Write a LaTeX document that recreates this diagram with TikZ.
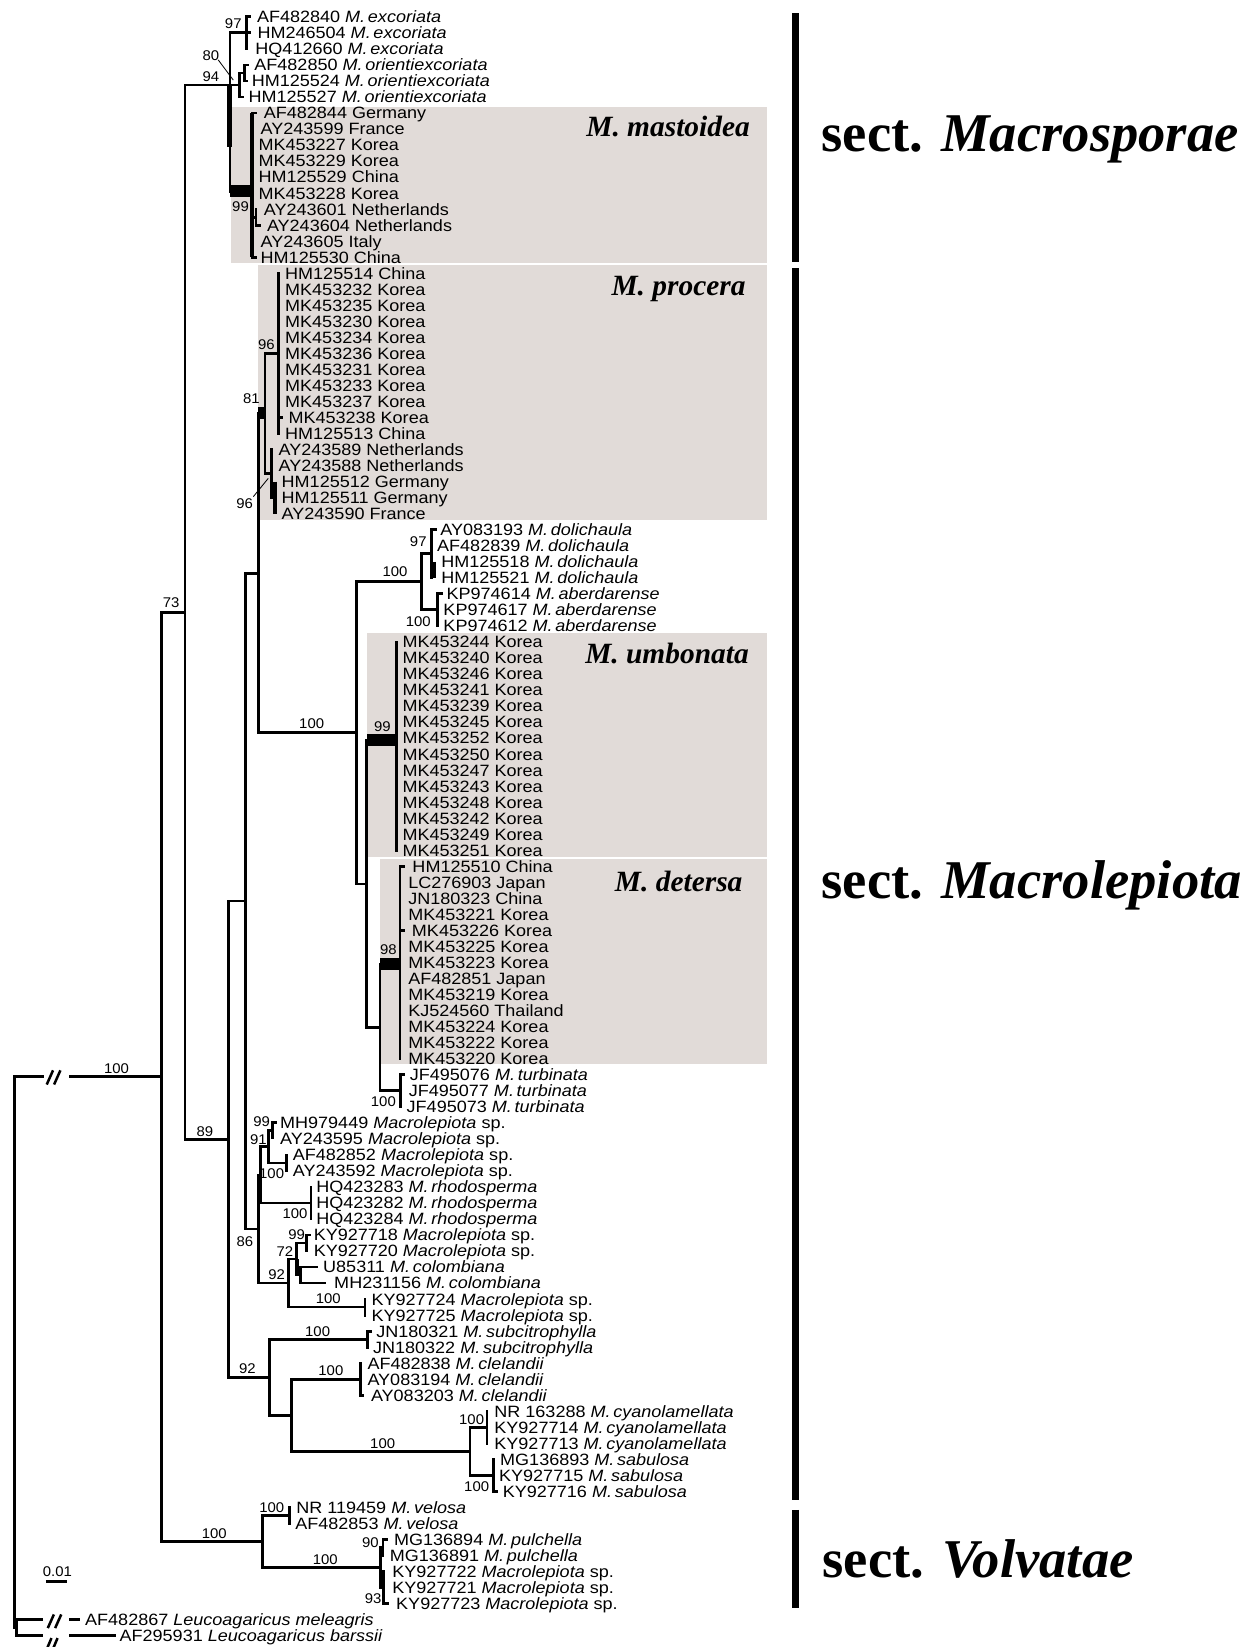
\documentclass[tikz,border=0pt]{standalone}
\usepackage{fontspec}
\setmainfont{Liberation Serif}
\newfontfamily\lff{Liberation Sans}[FakeStretch=1.1]
\newfontfamily\bsf{Liberation Sans}[FakeStretch=1.06]
\definecolor{cladebg}{RGB}{225,219,216}
\begin{document}
\begin{tikzpicture}[x=1pt,y=-1pt,
  br/.style={line width=2.6pt,line cap=rect},
  thk/.style={line width=3.6pt},
  lf/.style={font=\lff\fontsize{15.6}{15.6}\selectfont,anchor=base west,inner sep=0pt},
  bs/.style={font=\bsf\fontsize{13.4}{13.4}\selectfont,inner sep=0pt},
  cl/.style={font=\bfseries\itshape\fontsize{28}{28}\selectfont,anchor=base east,inner sep=0pt},
  sc/.style={font=\bfseries\fontsize{52}{52}\selectfont,anchor=base west,inner sep=0pt},
  secbar/.style={line width=7pt},
  leader/.style={line width=0.8pt},
  brk/.style={line width=2.4pt},
  cbox/.style={fill=cladebg}]
\useasboundingbox (0,0) rectangle (1189.5,1568);
\fill[white] (0,0) rectangle (1189.5,1568);
% clade boxes
\fill[cbox] (219.5,101.5) rectangle (730,250.5);
\fill[cbox] (246,252.5) rectangle (730,495.5);
\fill[cbox] (349,603) rectangle (730,815.5);
\fill[cbox] (361.8,818) rectangle (730,1013);
% leaves
\foreach \i/\x/\t in {
1/244.5/{AF482840 \textit{M.\,excoriata}},
2/245/{HM246504 \textit{M.\,excoriata}},
3/243/{HQ412660 \textit{M.\,excoriata}},
4/242/{AF482850 \textit{M.\,orientiexcoriata}},
5/239.5/{HM125524 \textit{M.\,orientiexcoriata}},
6/236.5/{HM125527 \textit{M.\,orientiexcoriata}},
7/251/{AF482844 Germany},
8/248/{AY243599 France},
9/246/{MK453227 Korea},
10/246/{MK453229 Korea},
11/246/{HM125529 China},
12/246/{MK453228 Korea},
13/251/{AY243601 Netherlands},
14/254/{AY243604 Netherlands},
15/248/{AY243605 Italy},
16/248/{HM125530 China},
17/271.3/{HM125514 China},
18/271.3/{MK453232 Korea},
19/271.3/{MK453235 Korea},
20/271.3/{MK453230 Korea},
21/271.3/{MK453234 Korea},
22/271.3/{MK453236 Korea},
23/271.3/{MK453231 Korea},
24/271.3/{MK453233 Korea},
25/271.3/{MK453237 Korea},
26/274.5/{MK453238 Korea},
27/271.3/{HM125513 China},
28/265/{AY243589 Netherlands},
29/265/{AY243588 Netherlands},
30/268/{HM125512 Germany},
31/268/{HM125511 Germany},
32/268/{AY243590 France},
33/419/{AY083193 \textit{M.\,dolichaula}},
34/416/{AF482839 \textit{M.\,dolichaula}},
35/420/{HM125518 \textit{M.\,dolichaula}},
36/420/{HM125521 \textit{M.\,dolichaula}},
37/425/{KP974614 \textit{M.\,aberdarense}},
38/422/{KP974617 \textit{M.\,aberdarense}},
39/422/{KP974612 \textit{M.\,aberdarense}},
40/383/{MK453244 Korea},
41/383/{MK453240 Korea},
42/383/{MK453246 Korea},
43/383/{MK453241 Korea},
44/383/{MK453239 Korea},
45/383/{MK453245 Korea},
46/383/{MK453252 Korea},
47/383/{MK453250 Korea},
48/383/{MK453247 Korea},
49/383/{MK453243 Korea},
50/383/{MK453248 Korea},
51/383/{MK453242 Korea},
52/383/{MK453249 Korea},
53/383/{MK453251 Korea},
54/392.5/{HM125510 China},
55/388.5/{LC276903 Japan},
56/388.5/{JN180323 China},
57/388.5/{MK453221 Korea},
58/392/{MK453226 Korea},
59/388.5/{MK453225 Korea},
60/388.5/{MK453223 Korea},
61/388.5/{AF482851 Japan},
62/388.5/{MK453219 Korea},
63/388.5/{KJ524560 Thailand},
64/388.5/{MK453224 Korea},
65/388.5/{MK453222 Korea},
66/388.5/{MK453220 Korea},
67/390/{JF495076 \textit{M.\,turbinata}},
68/389/{JF495077 \textit{M.\,turbinata}},
69/387/{JF495073 \textit{M.\,turbinata}},
70/266.5/{MH979449 \textit{Macrolepiota} sp.},
71/266.5/{AY243595 \textit{Macrolepiota} sp.},
72/278.6/{AF482852 \textit{Macrolepiota} sp.},
73/278.6/{AY243592 \textit{Macrolepiota} sp.},
74/301/{HQ423283 \textit{M.\,rhodosperma}},
75/301/{HQ423282 \textit{M.\,rhodosperma}},
76/301/{HQ423284 \textit{M.\,rhodosperma}},
77/298.5/{KY927718 \textit{Macrolepiota} sp.},
78/298.5/{KY927720 \textit{Macrolepiota} sp.},
79/307.5/{U85311 \textit{M.\,colombiana}},
80/318/{MH231156 \textit{M.\,colombiana}},
81/353.5/{KY927724 \textit{Macrolepiota} sp.},
82/353.5/{KY927725 \textit{Macrolepiota} sp.},
83/358/{JN180321 \textit{M.\,subcitrophylla}},
84/355/{JN180322 \textit{M.\,subcitrophylla}},
85/349.7/{AF482838 \textit{M.\,clelandii}},
86/349.7/{AY083194 \textit{M.\,clelandii}},
87/353/{AY083203 \textit{M.\,clelandii}},
88/470.5/{NR 163288 \textit{M.\,cyanolamellata}},
89/470.5/{KY927714 \textit{M.\,cyanolamellata}},
90/470.5/{KY927713 \textit{M.\,cyanolamellata}},
91/476/{MG136893 \textit{M.\,sabulosa}},
92/475/{KY927715 \textit{M.\,sabulosa}},
93/478.5/{KY927716 \textit{M.\,sabulosa}},
94/282/{NR 119459 \textit{M.\,velosa}},
95/281/{AF482853 \textit{M.\,velosa}},
96/375/{MG136894 \textit{M.\,pulchella}},
97/371/{MG136891 \textit{M.\,pulchella}},
98/373.4/{KY927722 \textit{Macrolepiota} sp.},
99/373.4/{KY927721 \textit{Macrolepiota} sp.},
100/377/{KY927723 \textit{Macrolepiota} sp.},
101/80.9/{AF482867 \textit{Leucoagaricus meleagris}},
102/113.7/{AF295931 \textit{Leucoagaricus barssii}}}
{\pgfmathsetmacro\yy{16+15.26*(\i-1)+5.6}
 \node[lf] (L\i) at (\x,\yy) {\t};}
% ---- branches ----
% root and outgroup
\draw[br] (13.5,1025.2) -- (41,1025.2);
\draw[br] (66.6,1025.2) -- (154,1025.2);
\draw[br] (13.5,1025.2) -- (13.5,1549.6) -- (16,1549.6);
\draw[br] (40,1542) -| (16,1557.26) -- (40,1557.26);
\draw[br] (66.7,1542) -- (74.7,1542);
\draw[br] (67.4,1557.26) -- (109.3,1557.26);
\draw[brk] (44.5,1032.5) -- (50.5,1019) (51.5,1032.5) -- (57.5,1019);
\draw[brk] (45.5,1550) -- (51.3,1537) (52.5,1550) -- (58.3,1537);
\draw[brk] (43.7,1572) -- (49,1559.5) (49.5,1572) -- (54.8,1559.5);
% backbone
\draw[br] (176,582.8) -| (154,1467.6) -- (250,1467.6);
\draw[br] (227.8,81) -| (176,1084.5) -- (217.5,1084.5);
% Macrosporae
\draw[br] (234.8,31.26) -| (219,182);
\draw[line width=4.5pt] (218.3,81) -- (218.3,139.6);
\draw[br] (238,16) -| (234.8,46.52);
\draw[br] (234.8,31.26) -- (237.5,31.26);
\draw[br] (232.6,69.4) -| (227.8,92.3) -- (231,92.3);
\draw[br] (235.5,61.78) -| (232.6,77.04) -- (235,77.04);
\fill (219,176) rectangle (239.5,187.5);
\draw[thk] (239.8,107.56) -- (239.8,244.9);
\draw[br] (239.8,107.56) -- (243.5,107.56);
\draw[br] (239.8,244.9) -- (243,244.9);
\draw[br] (239.8,206.75) -- (243.7,206.75);
\draw[br] (243.7,199.12) -- (243.7,214.38) -- (247,214.38);
% procera
\draw[br] (246,393.7) -- (246,697.7);
\fill (246,387) rectangle (252.5,398.5);
\draw[br] (265,336.5) -| (252.3,450.9) -- (258.6,450.9);
\draw[br] (265,260.16) -- (265,412.76);
\draw[br] (265,397.5) -- (268.5,397.5);
\draw[br] (258.6,428.02) |- (261.8,473.8);
\draw[line width=3.2pt] (261.8,458.54) -- (261.8,489.06);
% N2, N1
\draw[br] (246,545.7) -| (234,1170) -- (246,1170);
\draw[br] (234,857.9) -| (217.5,1311.2) -- (256.8,1311.2);
% N5 group
\draw[br] (246,697.7) -- (339.5,697.7);
\draw[br] (401.4,553.9) -| (339.5,841.5) -- (349,841.5);
\draw[br] (411,527.2) -| (401.4,580.6) -- (416.3,580.6);
\draw[br] (414.5,504.32) -| (411,550.1);
\draw[line width=3.2pt] (413.5,534.84) -- (413.5,550.1);
\draw[br] (420,565.36) -| (416.3,595.88);
\draw[br] (349,704.5) -- (349,978.1) -- (361.8,978.1);
\fill (349,698.5) rectangle (377.6,710.5);
\draw[br] (377.6,611.14) -- (377.6,809.52);
\draw[br] (361.8,917.8) -- (361.8,1038.42) -- (381,1038.42);
\fill (361.8,912.3) rectangle (380.8,923.4);
\draw[br] (384.5,824.78) -| (380.8,1007.9);
\draw[br] (380.8,885.82) -- (384,885.82);
\draw[br] (384.5,1023.16) -| (381,1053.68);
% N4 group
\draw[br] (247.8,1118.5) -| (246,1221.5) -- (274.5,1221.5);
\draw[br] (255.4,1091.8) -| (247.8,1145.24) -- (296,1145.24);
\draw[br] (259.6,1076.6) -| (255.4,1107.1) -- (272.9,1107.1);
\draw[line width=3.4pt] (259.6,1068.94) -- (259.6,1084.2);
\draw[br] (259.6,1068.94) -- (262.5,1068.94);
\draw[br] (272.9,1099.46) -- (272.9,1114.72);
\draw[br] (296,1129.98) -- (296,1160.5);
\draw[br] (282.4,1198.65) -| (274.5,1244.4) -- (347.5,1244.4);
\draw[br] (292,1183.4) -| (282.4,1213.9) -- (286.2,1213.9);
\draw[line width=3.4pt] (282.6,1199) -- (282.6,1213.9);
\draw[br] (294.5,1175.76) -| (292,1191.02);
\draw[br] (301.5,1206.28) -| (286.2,1221.54) -- (309.4,1221.54);
\draw[br] (347.5,1236.8) -- (347.5,1252.06);
% N15 group
\draw[br] (349.7,1274.95) -| (256.8,1347.4) -- (277.6,1347.4);
\draw[br] (353,1267.32) -| (349.7,1282.58);
\draw[br] (343.2,1313.1) -| (277.6,1381.77) -- (447.4,1381.77);
\draw[br] (343.2,1297.84) |- (345.5,1328.36);
\draw[br] (463.6,1358.88) -| (447.4,1404.66) -- (469.6,1404.66);
\draw[br] (463.6,1343.62) -- (463.6,1374.14);
\draw[br] (469.6,1389.4) |- (472.8,1419.92);
% Volvatae
\draw[br] (275.8,1442.8) -| (250,1492.4) -- (362.5,1492.4);
\draw[br] (275.8,1435.18) -- (275.8,1450.44);
\draw[br] (364.5,1473.3) -| (362.5,1511.5) -- (365,1511.5);
\draw[br] (368.5,1465.7) -| (364.5,1480.96);
\draw[line width=3.2pt] (365,1496.22) -- (365,1512);
\draw[br] (365,1496.22) |- (369,1526.74);
% leader lines
\draw[leader] (207.8,57.1) -- (222.1,76.2);
\draw[leader] (241.2,472.8) -- (255.4,455.4);
% support values
\foreach \n/\x/\y/\t in {
a/222.1/22.2/97, b/200.7/52.7/80, c/200.7/73.4/94, d/229/196.6/99,
e/253.6/328.4/96, f/239.4/379.3/81, g/233/479.4/96, h/398.2/515.7/97,
i/376/544/100, j/398.2/591.8/100, k/296.7/688.6/100, l/364/692/99,
m/369.7/904.4/98, n/365/1048.8/100, o/163/574/73, p/195/1077.4/89,
q/111/1017.2/100, r/249.1/1067.9/99, s/246/1085.3/91, t/258.6/1117/100,
u/280.8/1155/100, v/282.4/1175.7/99, w/271.3/1191.6/72, x/263.4/1213.8/92,
y/233.2/1182/86, z/312.6/1236/100, aa/235.6/1302.8/92, ab/302.4/1267.6/100,
ac/315/1305.3/100, ad/364.3/1374.6/100, ae/449/1351.2/100, af/453.8/1415.3/100,
ag/258.7/1435.3/100, ah/309.6/1484.8/100, ai/204/1459.9/100, aj/352.6/1468.8/90,
ak/355.2/1521.5/93}
{\node[bs] (S\n) at (\x,\y) {\t};}
% scale bar
\node[bs] (scl) at (54.7,1496) {0.01};
\draw[line width=2.5pt] (43.7,1505.5) -- (63.8,1505.5);
% clade names
\node[cl] (cmas) at (714,130) {M. mastoidea};
\node[cl] (cpro) at (710,281) {M. procera};
\node[cl] (cumb) at (713,632) {M. umbonata};
\node[cl] (cdet) at (707,849) {M. detersa};
% sections
\draw[secbar] (757.2,12.7) -- (757.2,249);
\draw[secbar] (757.2,255.4) -- (757.2,1428);
\draw[secbar] (757.2,1437.5) -- (757.2,1531);
\node[sc] (s1) at (782,144.4) {sect. \textit{Macrosporae}};
\node[sc] (s2) at (782,855) {sect. \textit{Macrolepiota}};
\node[sc] (s3) at (783,1502) {sect. \textit{Volvatae}};
\end{tikzpicture}
\end{document}
